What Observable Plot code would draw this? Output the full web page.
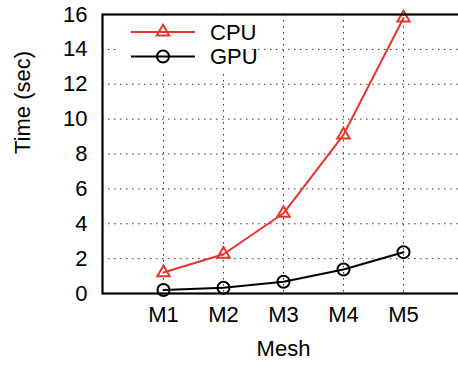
<!DOCTYPE html>
<html><head><meta charset="utf-8">
<script src="https://cdn.jsdelivr.net/npm/d3@7"></script>
<script src="https://cdn.jsdelivr.net/npm/@observablehq/plot@0.6"></script>
<style>
html,body{margin:0;padding:0;background:#fff;}
#chart{width:458px;height:368px;overflow:hidden;position:relative;}
</style></head><body><div id="chart"></div>
<script>
const meshes = ["M1", "M2", "M3", "M4", "M5"];
const cpuTimes = [1.2, 2.25, 4.6, 9.1, 15.8];
const gpuTimes = [0.2, 0.33, 0.67, 1.38, 2.37];
const yTicks = [0, 2, 4, 6, 8, 10, 12, 14, 16];
const seriesNames = ["CPU", "GPU"];
const seriesColors = ["#e8352b", "#000000"];
const seriesSymbols = ["triangle", "circle"];
const xTitle = "Mesh";
const yTitle = "Time (sec)";

const rows = [
  ...meshes.map((m, i) => ({mesh: m, time: cpuTimes[i], series: "CPU"})),
  ...meshes.map((m, i) => ({mesh: m, time: gpuTimes[i], series: "GPU"}))
];

const font = "'Liberation Sans', Arial, Helvetica, sans-serif";
const fs = 22;
const grid = {stroke: "#000", strokeOpacity: 0.8, strokeDasharray: "1.5,4.5", strokeWidth: 1};

const chart = Plot.plot({
  width: 458, height: 368,
  marginLeft: 102, marginTop: 14, marginBottom: 75, marginRight: -6,
  style: {fontFamily: font, fontSize: fs + "px", color: "#000", background: "#fff", overflow: "hidden"},
  x: {type: "point", domain: meshes, padding: 1},
  y: {domain: [0, 16]},
  color: {domain: seriesNames, range: seriesColors},
  symbol: {domain: seriesNames, range: seriesSymbols},
  marks: [
    Plot.gridY(yTicks.slice(1, -1), grid),
    Plot.gridX(meshes, grid),
    Plot.axisY(yTicks, {tickSize: 0, tickPadding: 15, label: null, fontSize: fs}),
    Plot.axisX(meshes, {tickSize: 0, tickPadding: 13, label: null, fontSize: fs}),
    Plot.text([xTitle], {frameAnchor: "bottom", dy: 62, text: d => d, fontSize: fs}),
    Plot.text([yTitle], {frameAnchor: "left", dx: -80, rotate: -90, text: d => d, fontSize: fs}),
    Plot.line(rows, {x: "mesh", y: "time", z: "series", stroke: "series", strokeWidth: 2}),
    Plot.dot(rows.filter(d => d.series === "CPU"), {x: "mesh", y: "time", stroke: "series", symbol: "series", r: 4.6, strokeWidth: 2, fill: "none"}),
    Plot.dot(rows.filter(d => d.series === "GPU"), {x: "mesh", y: "time", stroke: "series", symbol: "series", r: 6, strokeWidth: 2, fill: "none"}),
    Plot.frame({stroke: "#000", strokeWidth: 2.2})
  ]
});
document.getElementById("chart").appendChild(chart);

// legend inside the plot area (top-left), gnuplot style opaque box
const svg = d3.select(chart);
const lg = svg.append("g").attr("font-family", font).attr("font-size", fs).attr("text-anchor", "start");
lg.append("rect").attr("x", 118).attr("y", 16).attr("width", 132).attr("height", 56).attr("fill", "#fff");
const symGen = {triangle: d3.symbolTriangle, circle: d3.symbolCircle};
const symR = [4.6, 6];
seriesNames.forEach((name, i) => {
  const y = 32 + i * 24.5;
  lg.append("line").attr("x1", 131).attr("x2", 195).attr("y1", y).attr("y2", y)
    .attr("stroke", seriesColors[i]).attr("stroke-width", 2);
  lg.append("path").attr("transform", `translate(163,${y})`)
    .attr("d", d3.symbol(symGen[seriesSymbols[i]], Math.PI * symR[i] * symR[i])())
    .attr("fill", "none").attr("stroke", seriesColors[i]).attr("stroke-width", 2);
  lg.append("text").attr("x", 210).attr("y", y).attr("dy", "0.35em").attr("text-anchor", "start").attr("fill", "#000").text(name);
});
</script></body></html>
